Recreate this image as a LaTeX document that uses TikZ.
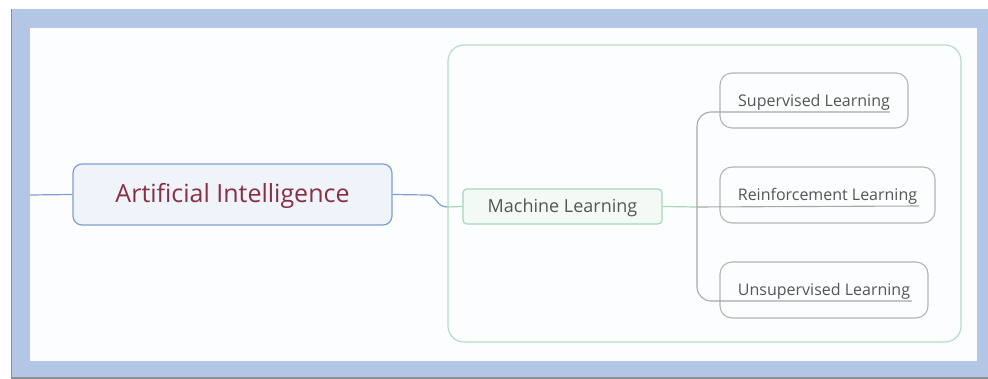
\documentclass[tikz,border=0pt]{standalone}
\usepackage{fontspec}
\setmainfont{Open Sans}
\definecolor{frameblue}{HTML}{B4C6E6}
\definecolor{framedark}{HTML}{8A8F99}
\definecolor{innerwhite}{HTML}{FCFDFE}
\definecolor{aiborder}{HTML}{7F9FD1}
\definecolor{aifill}{HTML}{EFF3FA}
\definecolor{aitext}{HTML}{8A2F42}
\definecolor{mlborder}{HTML}{A6D8B8}
\definecolor{mlfill}{HTML}{F3FAF5}
\definecolor{grpborder}{HTML}{B3DFC3}
\definecolor{grayborder}{HTML}{B4B4B4}
\definecolor{grayline}{HTML}{A8A8A8}
\definecolor{textgray}{HTML}{555555}
\tikzset{
  aibox/.style={draw=aiborder, line width=1.2pt, fill=aifill, rounded corners=9pt,
    text=aitext, font=\fontsize{25}{30}\selectfont, inner sep=0pt,
    text height=17pt, text depth=0pt},
  mlbox/.style={draw=mlborder, line width=1.2pt, fill=mlfill, rounded corners=4pt,
    text=textgray, font=\fontsize{18}{22}\selectfont, inner sep=0pt,
    text height=13pt, text depth=0pt},
  leafbox/.style={draw=grayborder, line width=1.1pt, fill=innerwhite, rounded corners=12pt,
    text=textgray, font=\fontsize{16}{19}\selectfont, inner sep=0pt,
    text height=11.5pt, text depth=0pt},
  blueconn/.style={draw=aiborder, line width=1.2pt},
  greenconn/.style={draw=mlborder, line width=1.2pt},
  grayconn/.style={draw=grayline, line width=1.1pt},
}
\begin{document}
\begin{tikzpicture}[x=1pt,y=-1pt]
\useasboundingbox (0,0) rectangle (988,379);
% frame
\fill[white] (0,0) rectangle (988,379);
\fill[framedark] (10.5,9) rectangle (988,379);
\fill[frameblue] (12,9) rectangle (988,377);
\fill[innerwhite] (30,28) rectangle (977,361);
% group container
\draw[grpborder, line width=1.2pt, rounded corners=16pt] (448,45) rectangle (961,342);
% nodes
\node[aibox, minimum width=319pt, minimum height=61pt] (ai) at (232.5,194.5) {Artificial Intelligence};
\node[mlbox, minimum width=199pt, minimum height=35pt] (ml) at (562.5,206.5) {Machine Learning};
\node[leafbox, minimum width=188pt, minimum height=55pt] (sup) at (814,100.5) {Supervised Learning};
\node[leafbox, minimum width=215pt, minimum height=56pt] (rein) at (827.5,195) {Reinforcement Learning};
\node[leafbox, minimum width=208pt, minimum height=56pt] (unsup) at (824,290) {Unsupervised Learning};
% coordinates
\coordinate (leftend) at (30,195);
\coordinate (bend) at (427,195);
\coordinate (bendend) at (447,207);
\coordinate (brk) at (697,207);
\coordinate (supU) at (890,112);
\coordinate (reinU) at (919,206);
\coordinate (unsupU) at (912,301);
% connectors
\draw[blueconn] (leftend) -- (ai.west);
\draw[blueconn] (ai.east) -- (bend) .. controls (437,195) and (436,207) .. (bendend);
\draw[greenconn] (bendend) -- (ml.west);
\draw[greenconn] (ml.east) -- (brk);
\draw[grayconn] (brk) -- (reinU);
\draw[grayconn, rounded corners=14pt] (supU) -- (697,112) -- (697,301) -- (unsupU);
\end{tikzpicture}
\end{document}
